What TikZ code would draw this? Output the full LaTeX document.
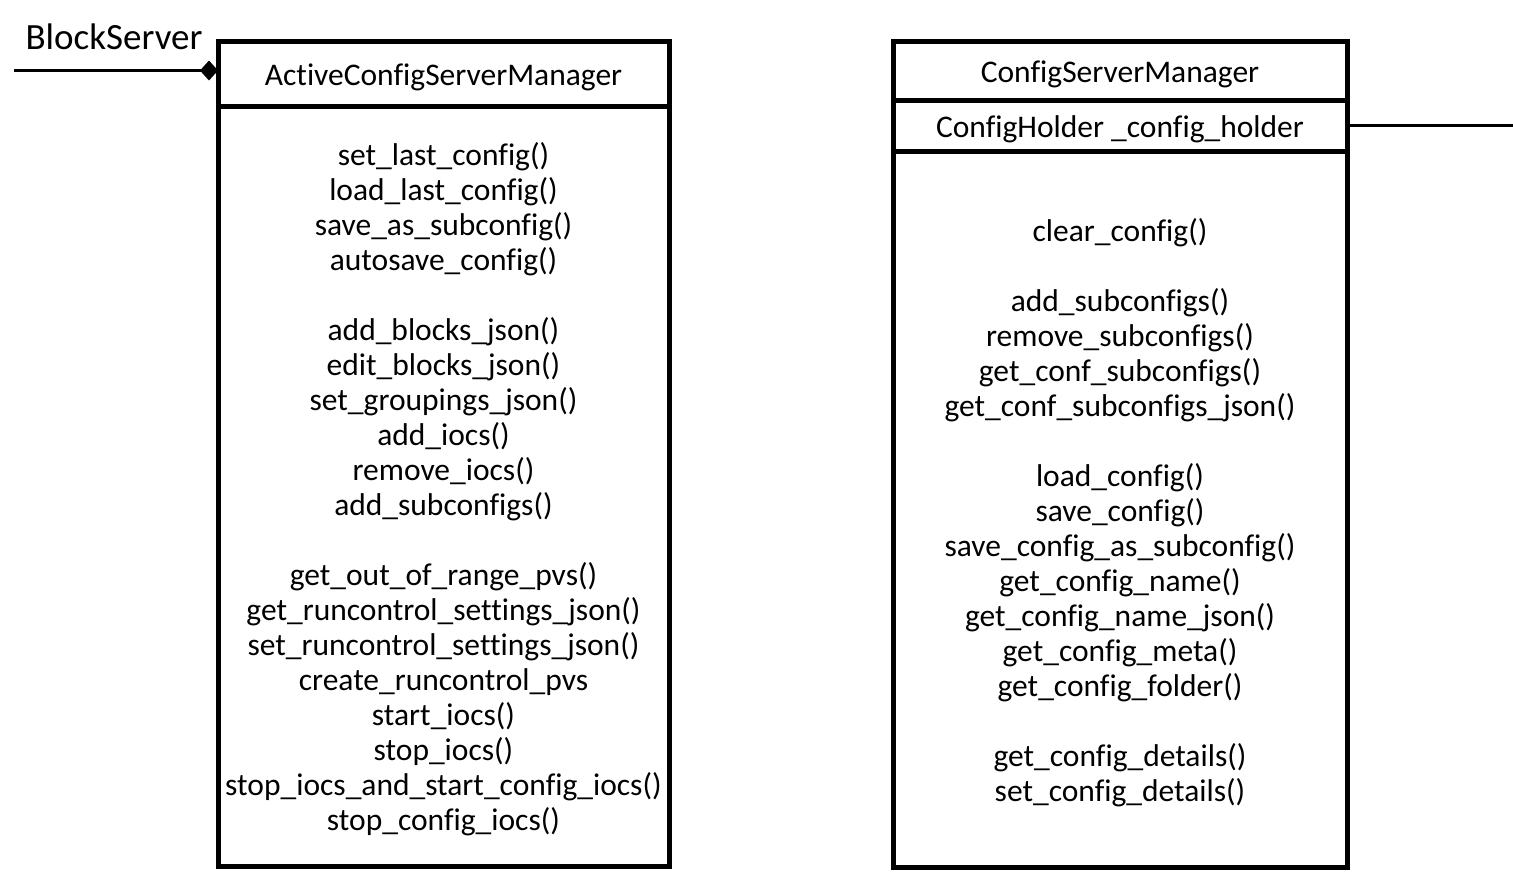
\documentclass[tikz,border=0pt]{standalone}
\usepackage{fontspec}
\setmainfont{Carlito}[Ligatures=NoCommon]
\usetikzlibrary{positioning,arrows.meta}

\tikzset{
	umlbox/.style={draw, line width=5pt, outer sep=0pt, inner sep=0pt},
	boxtext/.style={inner sep=0pt, align=center, yshift=-3.5pt, font=\fontsize{31.5}{35}\selectfont},
	assoc/.style={line width=3pt}
}

\begin{document}
\begin{tikzpicture}[x=1pt,y=-1pt]
	\useasboundingbox (0,0) rectangle (1513,871);

	% left class
	\node[umlbox, minimum width=451pt, minimum height=65pt] (acsm) at (443.5,73.5) {};
	\node[umlbox, minimum width=451pt, minimum height=760pt, below=0pt of acsm] (acsmops) {};
	\node[boxtext] (acsmname) at (acsm.center) {ActiveConfigServerManager};
	\node[boxtext] (acsmlist) at (acsmops.center) {%
		set\_last\_config()\\ load\_last\_config()\\ save\_as\_subconfig()\\ autosave\_config()\\[35pt]
		add\_blocks\_json()\\ edit\_blocks\_json()\\ set\_groupings\_json()\\ add\_iocs()\\ remove\_iocs()\\ add\_subconfigs()\\[35pt]
		get\_out\_of\_range\_pvs()\\ get\_runcontrol\_settings\_json()\\ set\_runcontrol\_settings\_json()\\ create\_runcontrol\_pvs\\
		start\_iocs()\\ stop\_iocs()\\ stop\_iocs\_and\_start\_config\_iocs()\\ stop\_config\_iocs()};

	% right class
	\node[umlbox, minimum width=454pt, minimum height=59pt] (csm) at (1120,70.5) {};
	\node[umlbox, minimum width=454pt, minimum height=51pt, below=0pt of csm] (holder) {};
	\node[umlbox, minimum width=454pt, minimum height=716pt, below=0pt of holder] (csmops) {};
	\node[boxtext] (csmname) at (csm.center) {ConfigServerManager};
	\node[boxtext] (holdername) at (holder.center) {ConfigHolder \_config\_holder};
	\node[boxtext] (csmlist) at (csmops.center) {%
		clear\_config()\\[35pt]
		add\_subconfigs()\\ remove\_subconfigs()\\ get\_conf\_subconfigs()\\ get\_conf\_subconfigs\_json()\\[35pt]
		load\_config()\\ save\_config()\\ save\_config\_as\_subconfig()\\ get\_config\_name()\\ get\_config\_name\_json()\\
		get\_config\_meta()\\ get\_config\_folder()\\[35pt]
		get\_config\_details()\\ set\_config\_details()};

	% associations
	\node[font=\fontsize{37}{40}\selectfont] (blockserver) at (114,37) {BlockServer};
	\coordinate (bsend) at (14,70.5);
	\draw[assoc, -{Diamond[length=18pt,width=20pt]}] (bsend) -- (acsm.west |- bsend);

	\coordinate (holderend) at (1513,0);
	\draw[assoc] (holder.east) -- (holder.east -| holderend);
\end{tikzpicture}
\end{document}
